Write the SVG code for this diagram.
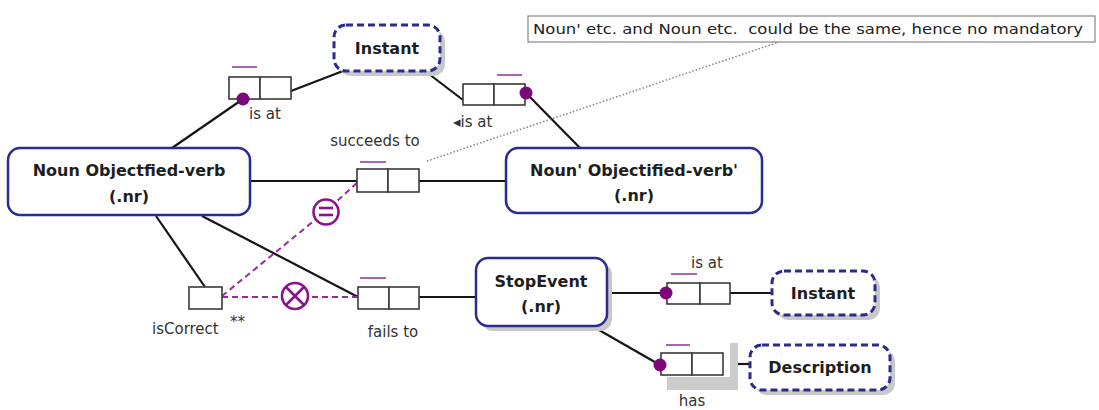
<svg xmlns="http://www.w3.org/2000/svg" width="1099" height="410" viewBox="0 0 1099 410">
  <style>
    .entity { fill: #ffffff; stroke: #2b2b96; stroke-width: 2.5; }
    .value { fill: #ffffff; stroke: #2b2b8c; stroke-width: 3; stroke-dasharray: 7 4; }
    .shadow { fill: #c8c8c8; }
    .name { font-family: "DejaVu Sans", Verdana, sans-serif; font-weight: bold; font-size: 16px; fill: #1e1e1e; text-anchor: middle; }
    .role { fill: #ffffff; stroke: #3a3a3a; stroke-width: 1.6; }
    .lbl { font-family: "DejaVu Sans", Verdana, sans-serif; font-size: 15px; fill: #333333; }
    .uc { stroke: #b060b0; stroke-width: 2; }
    .mand { fill: #7a087a; }
    .link { stroke: #151515; stroke-width: 2.2; fill: none; }
    .cons { stroke: #9a2a9a; stroke-width: 2; stroke-dasharray: 6 4; fill: none; }
    .ring { fill: #ffffff; stroke: #8a128a; stroke-width: 2.6; }
    .mark { stroke: #8a128a; stroke-width: 2.6; }
    .note { fill: #ffffff; stroke: #888888; stroke-width: 1.2; }
    .notetxt { font-family: "DejaVu Sans", Verdana, sans-serif; font-size: 14px; fill: #222222; white-space: pre; }
  </style>

  <!-- connectors -->
  <g id="connectors">
    <line class="link" x1="172" y1="148" x2="243" y2="99"/>
    <line class="link" x1="291" y1="91" x2="343" y2="71"/>
    <line class="link" x1="425" y1="71" x2="463" y2="100"/>
    <line class="link" x1="526" y1="93" x2="580" y2="148"/>
    <line class="link" x1="250" y1="181" x2="357" y2="181"/>
    <line class="link" x1="419" y1="181" x2="506" y2="181"/>
    <line class="link" x1="156" y1="216" x2="205" y2="287"/>
    <line class="link" x1="202" y1="216" x2="358" y2="297"/>
    <line class="link" x1="418" y1="297" x2="476" y2="297"/>
    <line class="link" x1="607" y1="293" x2="666" y2="293"/>
    <line class="link" x1="730" y1="293" x2="772" y2="293"/>
    <line class="link" x1="592" y1="326" x2="660" y2="365"/>
    <line class="link" x1="723" y1="364" x2="750" y2="364"/>
    <line stroke="#8a8a8a" stroke-width="1.6" stroke-dasharray="1.5 2" x1="427" y1="161" x2="779" y2="42"/>
    <polyline class="cons" points="222,296 326,211 358,182"/>
    <line class="cons" x1="222" y1="297" x2="358" y2="297"/>
  </g>

  <!-- note -->
  <g id="note">
    <rect class="note" x="528" y="16" width="567" height="26"/>
    <text class="notetxt" x="533" y="34" textLength="550" lengthAdjust="spacingAndGlyphs" xml:space="preserve">Noun' etc. and Noun etc.  could be the same, hence no mandatory</text>
  </g>

  <!-- entity types -->
  <g id="noun">
    <rect class="entity" x="8" y="148" width="242" height="67" rx="12"/>
    <text class="name" x="129" y="176">Noun Objectfied-verb</text>
    <text class="name" x="129" y="202">(.nr)</text>
  </g>
  <g id="noun-prime">
    <rect class="entity" x="506" y="148" width="256" height="65" rx="12"/>
    <text class="name" x="634" y="176">Noun' Objectified-verb'</text>
    <text class="name" x="634" y="201">(.nr)</text>
  </g>
  <g id="stop-event">
    <rect class="shadow" x="481" y="263" width="131" height="68" rx="12"/>
    <rect class="entity" x="476" y="258" width="131" height="68" rx="12"/>
    <text class="name" x="541" y="287">StopEvent</text>
    <text class="name" x="541" y="312">(.nr)</text>
  </g>

  <!-- value types -->
  <g id="instant-top">
    <rect class="shadow" x="339" y="30" width="106" height="46" rx="12"/>
    <rect class="value" x="334" y="25" width="106" height="46" rx="12"/>
    <text class="name" x="387" y="54">Instant</text>
  </g>
  <g id="instant-right">
    <rect class="shadow" x="777" y="276" width="103" height="44" rx="12"/>
    <rect class="value" x="772" y="271" width="103" height="44" rx="12"/>
    <text class="name" x="823" y="299">Instant</text>
  </g>
  <g id="description">
    <rect class="shadow" x="755" y="350" width="140" height="45" rx="12"/>
    <rect class="value" x="750" y="345" width="140" height="45" rx="12"/>
    <text class="name" x="820" y="373">Description</text>
  </g>

  <!-- fact types -->
  <g id="noun-is-at">
    <rect class="role" x="229" y="77" width="31" height="22"/>
    <rect class="role" x="260" y="77" width="31" height="22"/>
    <line class="uc" x1="232" y1="67" x2="257" y2="67"/>
    <circle class="mand" cx="243" cy="99" r="6.5"/>
    <text class="lbl" x="249" y="119">is at</text>
  </g>
  <g id="noun-prime-is-at">
    <rect class="role" x="463" y="84" width="31" height="21"/>
    <rect class="role" x="494" y="84" width="31" height="21"/>
    <line class="uc" x1="497" y1="75" x2="522" y2="75"/>
    <circle class="mand" cx="526" cy="93" r="6.5"/>
    <text class="lbl" x="453" y="127">◂is at</text>
  </g>
  <g id="succeeds-to">
    <rect class="role" x="357" y="169" width="31" height="23"/>
    <rect class="role" x="388" y="169" width="31" height="23"/>
    <line class="uc" x1="360" y1="162" x2="386" y2="162"/>
    <text class="lbl" x="375" y="146" text-anchor="middle">succeeds to</text>
  </g>
  <g id="is-correct">
    <rect class="role" x="189" y="287" width="33" height="22"/>
    <text class="lbl" x="152" y="334">isCorrect</text>
    <text class="lbl" x="230" y="327" font-size="11">**</text>
  </g>
  <g id="fails-to">
    <rect class="role" x="358" y="287" width="31" height="22"/>
    <rect class="role" x="389" y="287" width="30" height="22"/>
    <line class="uc" x1="360" y1="278" x2="386" y2="278"/>
    <text class="lbl" x="393" y="337" text-anchor="middle">fails to</text>
  </g>
  <g id="stop-event-is-at">
    <rect class="role" x="667" y="283" width="33" height="21"/>
    <rect class="role" x="700" y="283" width="30" height="21"/>
    <line class="uc" x1="671" y1="274" x2="697" y2="274"/>
    <circle class="mand" cx="666" cy="293" r="6.5"/>
    <text class="lbl" x="707" y="268" text-anchor="middle">is at</text>
  </g>
  <g id="stop-event-has">
    <rect fill="#cccccc" x="667" y="343" width="71" height="47"/>
    <rect fill="#ffffff" x="655" y="338" width="75" height="39"/>
    <rect class="role" x="661" y="353" width="31" height="22"/>
    <rect class="role" x="692" y="353" width="31" height="22"/>
    <line class="uc" x1="666" y1="345" x2="690" y2="345"/>
    <circle class="mand" cx="660" cy="365" r="6.5"/>
    <text class="lbl" x="692" y="406" text-anchor="middle">has</text>
  </g>

  <!-- constraints -->
  <g id="equality">
    <circle class="ring" cx="326" cy="212" r="12.5"/>
    <line class="mark" x1="319" y1="208" x2="333" y2="208"/>
    <line class="mark" x1="319" y1="215" x2="333" y2="215"/>
  </g>
  <g id="exclusion">
    <circle class="ring" cx="295" cy="296" r="13"/>
    <line class="mark" x1="286" y1="287" x2="304" y2="305"/>
    <line class="mark" x1="304" y1="287" x2="286" y2="305"/>
  </g>
</svg>
